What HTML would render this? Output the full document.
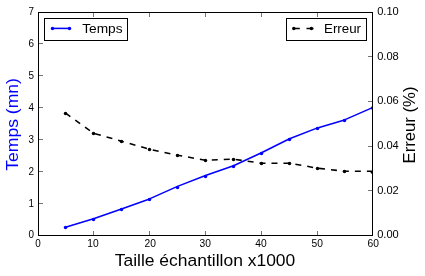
<!DOCTYPE html>
<html><head><meta charset="utf-8"><title>chart</title>
<style>
html,body{margin:0;padding:0;background:#fff;}
body{width:425px;height:276px;overflow:hidden;}
svg{display:block;will-change:transform;}
text{font-family:"Liberation Sans",sans-serif;fill:#000;}
</style></head><body>
<svg width="425" height="276" viewBox="0 0 425 276">
<defs><clipPath id="ax"><rect x="38.5" y="12.5" width="334.0" height="223.0"/></clipPath></defs>
<rect x="0" y="0" width="425" height="276" fill="#ffffff"/>
<g clip-path="url(#ax)">
<polyline points="65.50,227.20 93.50,218.80 121.50,208.90 149.50,198.90 177.50,186.40 205.50,175.50 233.50,165.70 261.50,152.80 289.50,138.70 317.50,127.90 344.50,119.90 372.50,107.60" fill="none" stroke="#0000ff" stroke-width="1.55" stroke-linejoin="round"/>
<circle cx="65.50" cy="227.50" r="1.75" fill="#0000ff"/>
<circle cx="93.50" cy="219.50" r="1.75" fill="#0000ff"/>
<circle cx="121.50" cy="209.50" r="1.75" fill="#0000ff"/>
<circle cx="149.50" cy="199.50" r="1.75" fill="#0000ff"/>
<circle cx="177.50" cy="187.50" r="1.75" fill="#0000ff"/>
<circle cx="205.50" cy="176.50" r="1.75" fill="#0000ff"/>
<circle cx="233.50" cy="166.50" r="1.75" fill="#0000ff"/>
<circle cx="261.50" cy="153.50" r="1.75" fill="#0000ff"/>
<circle cx="289.50" cy="139.50" r="1.75" fill="#0000ff"/>
<circle cx="317.50" cy="128.50" r="1.75" fill="#0000ff"/>
<circle cx="344.50" cy="120.50" r="1.75" fill="#0000ff"/>
<circle cx="372.50" cy="108.10" r="1.75" fill="#0000ff"/>
<polyline points="65.50,113.20 93.50,133.20 121.50,141.20 149.50,149.20 177.50,155.20 205.50,160.20 233.50,159.20 261.50,163.20 289.50,163.20 317.50,168.20 344.50,171.20 372.50,171.20" fill="none" stroke="#000" stroke-width="1.55" stroke-dasharray="6 6" stroke-linejoin="round"/>
<circle cx="65.50" cy="113.50" r="1.75" fill="#000"/>
<circle cx="93.50" cy="133.50" r="1.75" fill="#000"/>
<circle cx="121.50" cy="141.50" r="1.75" fill="#000"/>
<circle cx="149.50" cy="149.50" r="1.75" fill="#000"/>
<circle cx="177.50" cy="155.50" r="1.75" fill="#000"/>
<circle cx="205.50" cy="160.50" r="1.75" fill="#000"/>
<circle cx="233.50" cy="159.50" r="1.75" fill="#000"/>
<circle cx="261.50" cy="163.50" r="1.75" fill="#000"/>
<circle cx="289.50" cy="163.50" r="1.75" fill="#000"/>
<circle cx="317.50" cy="168.50" r="1.75" fill="#000"/>
<circle cx="344.50" cy="171.50" r="1.75" fill="#000"/>
<circle cx="372.50" cy="172.30" r="1.75" fill="#000"/>
</g>
<rect x="38.50" y="12.50" width="334.00" height="223.00" fill="none" stroke="#000" stroke-width="1"/>
<path d="M93.5 235.0v-4 M93.5 13.0v4 M149.5 235.0v-4 M149.5 13.0v4 M205.5 235.0v-4 M205.5 13.0v4 M261.5 235.0v-4 M261.5 13.0v4 M317.5 235.0v-4 M317.5 13.0v4 M39.0 203.5h4 M39.0 171.5h4 M39.0 139.5h4 M39.0 107.5h4 M39.0 75.5h4 M39.0 43.5h4 M372.0 190.5h-4 M372.0 146.5h-4 M372.0 101.5h-4 M372.0 56.5h-4" stroke="#000" stroke-width="0.55" fill="none"/>
<text x="38.10" y="246.8" font-size="10.4" text-anchor="middle" textLength="5.5" lengthAdjust="spacingAndGlyphs">0</text>
<text x="93.05" y="246.8" font-size="10.4" text-anchor="middle" textLength="11.4" lengthAdjust="spacingAndGlyphs">10</text>
<text x="150.15" y="246.8" font-size="10.4" text-anchor="middle" textLength="11.4" lengthAdjust="spacingAndGlyphs">20</text>
<text x="205.15" y="246.8" font-size="10.4" text-anchor="middle" textLength="11.4" lengthAdjust="spacingAndGlyphs">30</text>
<text x="260.95" y="246.8" font-size="10.4" text-anchor="middle" textLength="11.4" lengthAdjust="spacingAndGlyphs">40</text>
<text x="317.25" y="246.8" font-size="10.4" text-anchor="middle" textLength="11.4" lengthAdjust="spacingAndGlyphs">50</text>
<text x="373.15" y="246.8" font-size="10.4" text-anchor="middle" textLength="11.4" lengthAdjust="spacingAndGlyphs">60</text>
<text x="34" y="237.80" font-size="10.4" text-anchor="end" textLength="5.5" lengthAdjust="spacingAndGlyphs">0</text>
<text x="34" y="206.80" font-size="10.4" text-anchor="end" textLength="5.5" lengthAdjust="spacingAndGlyphs">1</text>
<text x="34" y="174.80" font-size="10.4" text-anchor="end" textLength="5.5" lengthAdjust="spacingAndGlyphs">2</text>
<text x="34" y="142.80" font-size="10.4" text-anchor="end" textLength="5.5" lengthAdjust="spacingAndGlyphs">3</text>
<text x="34" y="110.80" font-size="10.4" text-anchor="end" textLength="5.5" lengthAdjust="spacingAndGlyphs">4</text>
<text x="34" y="78.80" font-size="10.4" text-anchor="end" textLength="5.5" lengthAdjust="spacingAndGlyphs">5</text>
<text x="34" y="46.80" font-size="10.4" text-anchor="end" textLength="5.5" lengthAdjust="spacingAndGlyphs">6</text>
<text x="34" y="14.80" font-size="10.4" text-anchor="end" textLength="5.5" lengthAdjust="spacingAndGlyphs">7</text>
<text x="377.2" y="237.80" font-size="10.4" text-anchor="start" textLength="21.6" lengthAdjust="spacingAndGlyphs">0.00</text>
<text x="377.2" y="193.80" font-size="10.4" text-anchor="start" textLength="21.6" lengthAdjust="spacingAndGlyphs">0.02</text>
<text x="377.2" y="148.80" font-size="10.4" text-anchor="start" textLength="21.6" lengthAdjust="spacingAndGlyphs">0.04</text>
<text x="377.2" y="103.80" font-size="10.4" text-anchor="start" textLength="21.6" lengthAdjust="spacingAndGlyphs">0.06</text>
<text x="377.2" y="59.80" font-size="10.4" text-anchor="start" textLength="21.6" lengthAdjust="spacingAndGlyphs">0.08</text>
<text x="377.2" y="14.80" font-size="10.4" text-anchor="start" textLength="21.6" lengthAdjust="spacingAndGlyphs">0.10</text>
<text x="205.0" y="265.5" font-size="16.8" text-anchor="middle" textLength="180.6" lengthAdjust="spacingAndGlyphs">Taille échantillon x1000</text>
<text transform="translate(18 124.4) rotate(-90)" font-size="16.8" text-anchor="middle" textLength="92.6" lengthAdjust="spacingAndGlyphs" style="fill:#0000ff">Temps (mn)</text>
<text transform="translate(414.8 125.0) rotate(-90)" font-size="16.8" text-anchor="middle" textLength="77" lengthAdjust="spacingAndGlyphs">Erreur (%)</text>
<rect x="44.5" y="18.5" width="83" height="22" fill="#fff" stroke="#000" stroke-width="1"/>
<path d="M52.5 28.4H69.5" stroke="#0000ff" stroke-width="1.55" fill="none"/>
<circle cx="52.5" cy="28.4" r="1.75" fill="#0000ff"/><circle cx="69.5" cy="28.4" r="1.75" fill="#0000ff"/>
<text x="82.2" y="33.3" font-size="12.8" textLength="40.4" lengthAdjust="spacingAndGlyphs">Temps</text>
<rect x="286.5" y="18.5" width="80" height="22" fill="#fff" stroke="#000" stroke-width="1"/>
<path d="M292.8 28.4h7 M306.5 28.4h7" stroke="#000" stroke-width="1.55" fill="none"/>
<circle cx="293.8" cy="28.4" r="1.75" fill="#000"/><circle cx="311.4" cy="28.4" r="1.75" fill="#000"/>
<text x="324.0" y="33.3" font-size="12.8" textLength="37" lengthAdjust="spacingAndGlyphs">Erreur</text>
</svg>
</body></html>
